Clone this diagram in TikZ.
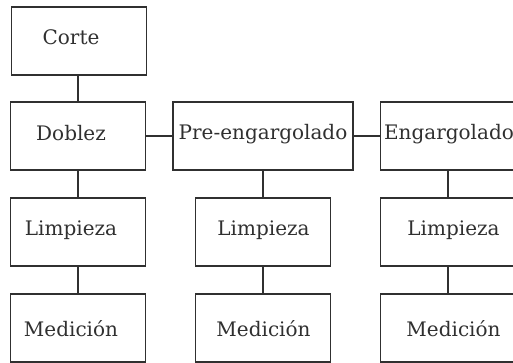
\documentclass[tikz,border=0pt]{standalone}
\usepackage{fontspec}
\setmainfont{DejaVu Serif}
\definecolor{ink}{HTML}{303030}
\begin{document}
\begin{tikzpicture}[x=1pt,y=-1pt,
  box/.style={draw=ink,line width=1.6pt,minimum height=68pt,inner sep=0pt},
  narrow/.style={box,minimum width=135pt},
  wide/.style={box,minimum width=180pt},
  txt/.style={text=ink,font=\fontsize{20}{22}\selectfont,inner sep=0pt},
  link/.style={draw=ink,line width=1.6pt}]
\useasboundingbox (0,0) rectangle (513,362);
\clip (0,0) rectangle (513,362);
\node[narrow] (corte) at (79,41) {};
\node[narrow] (doblez) at (78,136) {};
\node[wide] (pre) at (263,136) {};
\node[narrow] (eng) at (448,136) {};
\node[narrow] (l1) at (78,232) {};
\node[narrow] (l2) at (263,232) {};
\node[narrow] (l3) at (448,232) {};
\node[narrow] (m1) at (78,328) {};
\node[narrow] (m2) at (263,328) {};
\node[narrow] (m3) at (448,328) {};
\node[txt] (tcorte) at (71,37) {Corte};
\node[txt] (tdoblez) at (71,133) {Doblez};
\node[txt] (tpre) at (263,134) {Pre-engargolado};
\node[txt] (teng) at (449,134) {Engargolado};
\node[txt] (tl1) at (71,230) {Limpieza};
\node[txt] (tl2) at (263.5,230) {Limpieza};
\node[txt] (tl3) at (453.5,230) {Limpieza};
\node[txt] (tm1) at (71,329) {Medición};
\node[txt] (tm2) at (263.5,329) {Medición};
\node[txt] (tm3) at (453.5,329) {Medición};
\draw[link] (corte.south -| doblez) -- (doblez);
\draw[link] (doblez) -- (pre);
\draw[link] (pre) -- (eng);
\draw[link] (doblez) -- (l1);
\draw[link] (pre) -- (l2);
\draw[link] (eng) -- (l3);
\draw[link] (l1) -- (m1);
\draw[link] (l2) -- (m2);
\draw[link] (l3) -- (m3);
\end{tikzpicture}
\end{document}
